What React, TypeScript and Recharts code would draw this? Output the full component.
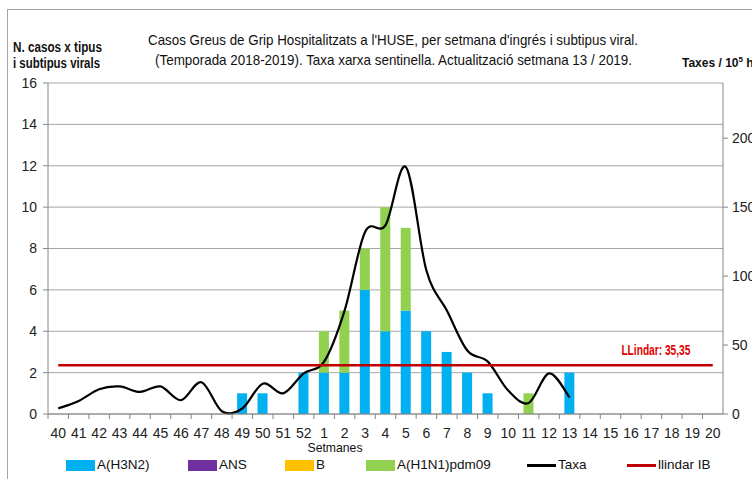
import React from 'react';
import {
  ComposedChart, Bar, Line, XAxis, YAxis, CartesianGrid, Legend, LabelList,
} from 'recharts';

// ---------- data ----------
const weeks = [
  '40', '41', '42', '43', '44', '45', '46', '47', '48', '49', '50', '51', '52',
  '1', '2', '3', '4', '5', '6', '7', '8', '9', '10', '11', '12', '13', '14', '15', '16', '17', '18', '19', '20',
];
const h3n2 = [0, 0, 0, 0, 0, 0, 0, 0, 0, 1, 1, 0, 2, 2, 2, 6, 4, 5, 4, 3, 2, 1, 0, 0, 0, 2, 0, 0, 0, 0, 0, 0, 0];
const ans = [0, 0, 0, 0, 0, 0, 0, 0, 0, 0, 0, 0, 0, 0, 0, 0, 0, 0, 0, 0, 0, 0, 0, 0, 0, 0, 0, 0, 0, 0, 0, 0, 0];
const bType = [0, 0, 0, 0, 0, 0, 0, 0, 0, 0, 0, 0, 0, 0, 0, 0, 0, 0, 0, 0, 0, 0, 0, 0, 0, 0, 0, 0, 0, 0, 0, 0, 0];
const h1n1 = [0, 0, 0, 0, 0, 0, 0, 0, 0, 0, 0, 0, 0, 2, 3, 2, 6, 4, 0, 0, 0, 0, 0, 1, 0, 0, 0, 0, 0, 0, 0, 0, 0];
const taxa: (number | null)[] = [
  4, 9.5, 18, 20, 16, 20, 10, 23, 2, 4, 22, 15, 29.5,
  38, 75, 132, 137, 179, 104, 75, 46, 38, 17, 8, 29.5, 12,
  null, null, null, null, null, null, null,
];
const llindarValue = 35.35;
const llindarLabel = 'LLindar: 35,35';
const leftTicks = [0, 2, 4, 6, 8, 10, 12, 14, 16];
const rightTicks = [0, 50, 100, 150, 200];

const data = weeks.map((w, i) => ({
  week: w,
  h3n2: h3n2[i],
  ans: ans[i],
  b: bType[i],
  h1n1: h1n1[i],
  taxa: taxa[i],
  llindar: llindarValue,
}));

// ---------- layout ----------
const W = 752;
const H = 479;
const PLOT_LEFT = 48;
const PLOT_RIGHT = 723;
const PLOT_TOP = 83;
const PLOT_BOTTOM = 414;
const BAND = (PLOT_RIGHT - PLOT_LEFT) / weeks.length;

const SANS = '"Liberation Sans", Arial, sans-serif';
const AXIS_GRAY = '#868686';

// Excel-like smoothed curve (Catmull-Rom as cubic Bezier)
const excelCurve = (context: any) => {
  let pts: number[][] = [];
  return {
    areaStart() {},
    areaEnd() {},
    lineStart() { pts = []; },
    point(x: number, y: number) { pts.push([+x, +y]); },
    lineEnd() {
      if (!pts.length) return;
      context.moveTo(pts[0][0], pts[0][1]);
      for (let i = 0; i < pts.length - 1; i++) {
        const p0 = pts[i - 1] || pts[i];
        const p1 = pts[i];
        const p2 = pts[i + 1];
        const p3 = pts[i + 2] || pts[i + 1];
        const c1x = p1[0] + (p2[0] - p0[0]) / 6;
        const c1y = p1[1] + (p2[1] - p0[1]) / 6;
        const c2x = p2[0] - (p3[0] - p1[0]) / 6;
        const c2y = p2[1] - (p3[1] - p1[1]) / 6;
        context.bezierCurveTo(c1x, c1y, c2x, c2y, p2[0], p2[1]);
      }
    },
  };
};

const XTick = (props: any) => {
  const { x, y, payload } = props;
  const bx = x - BAND / 2;
  return (
    <g>
      <line x1={bx} x2={bx} y1={y} y2={y + 5} stroke={AXIS_GRAY} />
      <text x={x} y={y + 24} textAnchor="middle" fontFamily={SANS} fontSize={14} fill="#222">
        {payload.value}
      </text>
    </g>
  );
};

const legendPos: Record<string, number> = {
  h3n2: 66, ans: 188, b: 285, h1n1: 366, taxa: 527, llindar: 627,
};

const renderLegend = (props: any) => {
  const { payload } = props;
  return (
    <div style={{ position: 'relative', width: W, height: 0 }}>
      {(payload || []).map((item: any) => {
        const left = legendPos[item.dataKey];
        if (left === undefined) return null;
        const isLine = item.dataKey === 'taxa' || item.dataKey === 'llindar';
        return (
          <div
            key={item.dataKey}
            style={{
              position: 'absolute', left, top: 0, height: 14, display: 'flex', alignItems: 'center',
              whiteSpace: 'nowrap', fontFamily: SANS, fontSize: 13.5, color: '#111', lineHeight: '14px',
            }}
          >
            {isLine ? (
              <span style={{ display: 'inline-block', width: 29, height: 3, background: item.color, marginRight: 2 }} />
            ) : (
              <span style={{ display: 'inline-block', width: 29, height: 11, background: item.color, marginRight: 2 }} />
            )}
            <span>{item.value}</span>
          </div>
        );
      })}
    </div>
  );
};

const ThresholdLabel = (props: any) => {
  const { x, y, index } = props;
  if (index !== 29) return null;
  return (
    <text
      x={x - 30}
      y={y - 10}
      fontFamily={SANS}
      fontWeight="bold"
      fontSize={15}
      fill="#E00000"
      textLength={69}
      lengthAdjust="spacingAndGlyphs"
    >
      {llindarLabel}
    </text>
  );
};

export default function App() {
  return (
    <div style={{ position: 'absolute', left: 0, top: 0, width: W, height: H, background: '#fff' }}>
      <ComposedChart
        width={W}
        height={H}
        data={data}
        margin={{ top: PLOT_TOP, right: 0, left: 0, bottom: 0 }}
      >
        <CartesianGrid yAxisId="left" vertical={false} stroke="#a6a6a6" strokeWidth={1} />
        <XAxis
          dataKey="week"
          height={H - PLOT_BOTTOM}
          interval={0}
          tickLine={false}
          tickSize={0}
          tickMargin={0}
          axisLine={{ stroke: AXIS_GRAY }}
          tick={<XTick />}
        />
        <YAxis
          yAxisId="left"
          width={PLOT_LEFT}
          domain={[0, 16]}
          ticks={leftTicks}
          interval={0}
          tickSize={5}
          tickMargin={6}
          axisLine={{ stroke: AXIS_GRAY }}
          tickLine={{ stroke: AXIS_GRAY }}
          tick={{ fontFamily: SANS, fontSize: 14, fill: '#222' }}
        />
        <YAxis
          yAxisId="right"
          orientation="right"
          width={W - PLOT_RIGHT}
          domain={[0, 240]}
          ticks={rightTicks}
          interval={0}
          tickSize={5}
          tickMargin={4}
          axisLine={{ stroke: AXIS_GRAY }}
          tickLine={{ stroke: AXIS_GRAY }}
          tick={{ fontFamily: SANS, fontSize: 14, fill: '#222' }}
        />
        <Legend
          content={renderLegend}
          verticalAlign="top"
          wrapperStyle={{ position: 'absolute', top: 458, left: 0, width: W, height: 0 }}
        />
        <Bar yAxisId="left" dataKey="h3n2" name="A(H3N2)" stackId="s" fill="#00B0F0" barSize={10} isAnimationActive={false} />
        <Bar yAxisId="left" dataKey="ans" name="ANS" stackId="s" fill="#7030A0" barSize={10} isAnimationActive={false} />
        <Bar yAxisId="left" dataKey="b" name="B" stackId="s" fill="#FFC000" barSize={10} isAnimationActive={false} />
        <Bar yAxisId="left" dataKey="h1n1" name="A(H1N1)pdm09" stackId="s" fill="#92D050" barSize={10} isAnimationActive={false} />
        <Line
          yAxisId="right"
          dataKey="taxa"
          name="Taxa"
          type={excelCurve as any}
          stroke="#000"
          strokeWidth={2.2}
          dot={false}
          activeDot={false}
          connectNulls={false}
          isAnimationActive={false}
        />
        <Line
          yAxisId="right"
          dataKey="llindar"
          name="llindar IB"
          type="linear"
          stroke="#C00000"
          strokeWidth={2.5}
          dot={false}
          activeDot={false}
          isAnimationActive={false}
        >
          <LabelList dataKey="llindar" content={<ThresholdLabel />} />
        </Line>
      </ComposedChart>
      <svg
        width={W}
        height={H}
        style={{ position: 'absolute', left: 0, top: 0, pointerEvents: 'none', overflow: 'hidden' }}
      >
        <rect x={7.5} y={9.5} width={900} height={600} fill="none" stroke="#a6a6a6" />
        <text x={148} y={45} fontFamily={SANS} fontSize={15} fill="#111" textLength={490} lengthAdjust="spacingAndGlyphs">
          Casos  Greus de Grip Hospitalitzats a l'HUSE, per setmana  d'ingrés i subtipus  viral.
        </text>
        <text x={155} y={65} fontFamily={SANS} fontSize={15} fill="#111" textLength={477} lengthAdjust="spacingAndGlyphs">
          (Temporada 2018-2019). Taxa xarxa sentinella.  Actualització setmana  13 / 2019.
        </text>
        <text x={13} y={52} fontFamily={SANS} fontWeight="bold" fontSize={14} fill="#111" textLength={89} lengthAdjust="spacingAndGlyphs">
          N.  casos x tipus
        </text>
        <text x={13} y={68} fontFamily={SANS} fontWeight="bold" fontSize={14} fill="#111" textLength={87} lengthAdjust="spacingAndGlyphs">
          i subtipus virals
        </text>
        <text x={682} y={67} fontFamily={SANS} fontWeight="bold" fontSize={12} fill="#111">
          Taxes / 10<tspan fontSize={8} dy={-5}>5</tspan><tspan dy={5}> h</tspan>
        </text>
        <text x={335} y={452} textAnchor="middle" fontFamily={SANS} fontSize={13} fill="#111" textLength={55} lengthAdjust="spacingAndGlyphs">
          Setmanes
        </text>
      </svg>
    </div>
  );
}
